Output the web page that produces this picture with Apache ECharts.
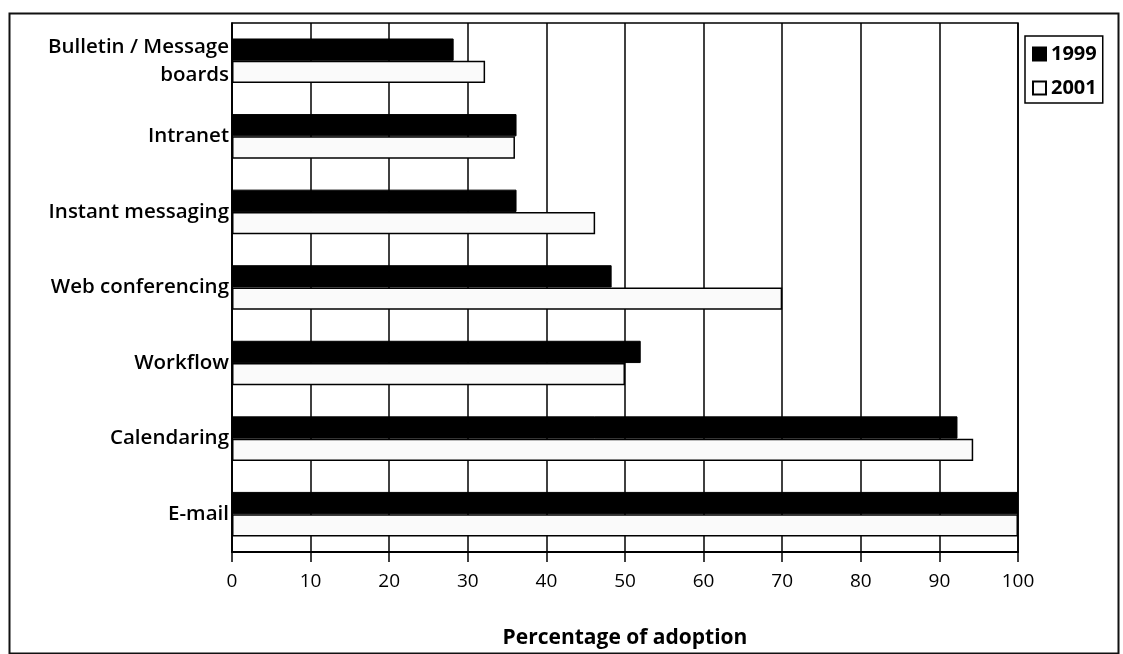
<!DOCTYPE html>
<html>
<head>
<meta charset="utf-8">
<script src="https://cdn.jsdelivr.net/npm/echarts@6/dist/echarts.min.js"></script>
<style>
html,body{margin:0;padding:0;background:#fff;}
#chart{width:1123px;height:654px;}
</style>
</head>
<body>
<div id="chart"></div>
<script>
const categories = ['Bulletin / Message\nboards', 'Intranet', 'Instant messaging', 'Web conferencing', 'Workflow', 'Calendaring', 'E-mail'];
const values1999 = [28.2, 36.2, 36.2, 48.3, 52, 92.3, 100];
const values2001 = [32.2, 36, 46.2, 70, 50, 94.3, 100];
const seriesNames = ['1999', '2001'];
const xTicks = [0, 10, 20, 30, 40, 50, 60, 70, 80, 90, 100];
const xTitle = 'Percentage of adoption';

const chart = echarts.init(document.getElementById('chart'), null, {renderer: 'canvas'});
const FONT = '"Open Sans", "DejaVu Sans", sans-serif';
chart.setOption({
  animation: false,
  backgroundColor: '#fff',
  graphic: [{
    type: 'rect', left: 7, top: 11, shape: {width: 1109, height: 640},
    style: {fill: 'none', stroke: '#111', lineWidth: 2}, silent: true, z: -1
  }],
  grid: {left: 232, right: 105, top: 23, bottom: 97, show: true, borderColor: '#000', borderWidth: 1.5, containLabel: false},
  legend: {
    data: seriesNames,
    orient: 'vertical',
    left: 1025, top: 36,
    padding: [7, 6, 4, 7],
    itemWidth: 13, itemHeight: 13, itemGap: 12,
    borderColor: '#000', borderWidth: 1.5,
    icon: 'rect',
    textStyle: {fontFamily: FONT, fontWeight: 'bold', fontSize: 20, color: '#000', lineHeight: 22}
  },
  xAxis: {
    type: 'value', min: 0, max: 100, interval: 10,
    name: xTitle, nameLocation: 'middle', nameGap: 76,
    nameTextStyle: {fontFamily: FONT, fontWeight: 'bold', fontSize: 21, color: '#000'},
    axisLine: {show: true, lineStyle: {color: '#000', width: 2}},
    axisTick: {show: true, length: 10, lineStyle: {color: '#000', width: 1.5}},
    axisLabel: {margin: 20, fontFamily: FONT, fontSize: 19, color: '#000',
      formatter: v => xTicks.includes(v) ? String(v) : ''},
    splitLine: {show: true, lineStyle: {color: '#000', width: 1.5}}
  },
  yAxis: {
    type: 'category', data: categories, inverse: true,
    axisLine: {show: true, lineStyle: {color: '#000', width: 1.5}},
    axisTick: {show: false},
    axisLabel: {margin: 3, fontFamily: FONT, fontWeight: 600, fontSize: 20.5, color: '#000', lineHeight: 28, align: 'right'},
    splitLine: {show: false}
  },
  series: [
    {name: seriesNames[0], type: 'bar', data: values1999, barGap: '0%', barCategoryGap: '41%',
     itemStyle: {color: '#000', borderColor: '#000', borderWidth: 1}},
    {name: seriesNames[1], type: 'bar', data: values2001, barGap: '0%', barCategoryGap: '41%',
     itemStyle: {color: '#fafafa', borderColor: '#000', borderWidth: 1.5}}
  ]
});
</script>
</body>
</html>
